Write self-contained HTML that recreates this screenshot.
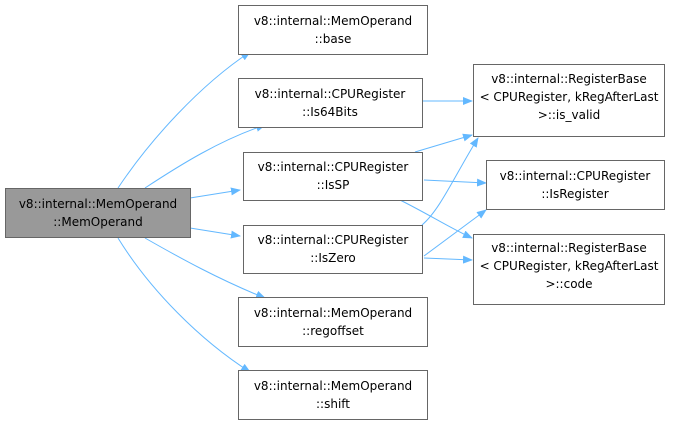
<!DOCTYPE html>
<html><head><style>
body{margin:0;background:#fff}
text{font-family:"DejaVu Sans","Liberation Sans",sans-serif;font-size:12px;fill:#000}
</style></head><body>
<svg width="683" height="426" xmlns="http://www.w3.org/2000/svg">
<defs><marker id="a" markerWidth="10" markerHeight="8" refX="9" refY="4" orient="auto" markerUnits="userSpaceOnUse"><path d="M0,0L10,4L0,8z" fill="#63b8ff"/></marker></defs>
<g fill="none" stroke="#63b8ff" stroke-width="1" marker-end="url(#a)">
<path d="M118,188 C150,140 200,85 250,52"/>
<path d="M145,188 C180,165 220,140 265,125"/>
<path d="M190,198 L240,190"/>
<path d="M190,228 L240,236"/>
<path d="M145,238 C180,258 220,280 265,298"/>
<path d="M118,238 C150,290 200,340 250,372"/>
<path d="M422,101 L472,101"/>
<path d="M415,152 L472,135"/>
<path d="M424,180 L486,183"/>
<path d="M400,200 C430,215 450,228 472,238"/>
<path d="M422,225 C440,210 455,175 478,138"/>
<path d="M424,256 L486,210"/>
<path d="M424,258 L472,260"/>
</g>
<g stroke="#666" stroke-width="1">
<rect x="5.5" y="188.5" width="185" height="49" fill="#999"/>
<rect x="238.5" y="5.5" width="189" height="49" fill="#fff"/>
<rect x="238.5" y="78.5" width="184" height="49" fill="#fff"/>
<rect x="243.5" y="152.5" width="179" height="48" fill="#fff"/>
<rect x="243.5" y="225.5" width="179" height="48" fill="#fff"/>
<rect x="238.5" y="297.5" width="189" height="49" fill="#fff"/>
<rect x="238.5" y="370.5" width="189" height="49" fill="#fff"/>
<rect x="473.5" y="64.5" width="191" height="72" fill="#fff"/>
<rect x="486.5" y="160.5" width="178" height="49" fill="#fff"/>
<rect x="473.5" y="234.5" width="191" height="70" fill="#fff"/>
</g>
<g text-anchor="middle">
<text x="98" y="208">v8::internal::MemOperand</text><text x="98" y="226">::MemOperand</text>
<text x="333" y="25">v8::internal::MemOperand</text><text x="333" y="43">::base</text>
<text x="330" y="98">v8::internal::CPURegister</text><text x="330" y="116">::Is64Bits</text>
<text x="333" y="171">v8::internal::CPURegister</text><text x="333" y="189">::IsSP</text>
<text x="333" y="244">v8::internal::CPURegister</text><text x="333" y="262">::IsZero</text>
<text x="333" y="317">v8::internal::MemOperand</text><text x="333" y="335">::regoffset</text>
<text x="333" y="390">v8::internal::MemOperand</text><text x="333" y="408">::shift</text>
<text x="569" y="83">v8::internal::RegisterBase</text><text x="569" y="101">&lt; CPURegister, kRegAfterLast</text><text x="569" y="119">&gt;::is_valid</text>
<text x="575" y="180">v8::internal::CPURegister</text><text x="575" y="198">::IsRegister</text>
<text x="569" y="252">v8::internal::RegisterBase</text><text x="569" y="270">&lt; CPURegister, kRegAfterLast</text><text x="569" y="288">&gt;::code</text>
</g>
</svg>
</body></html>
